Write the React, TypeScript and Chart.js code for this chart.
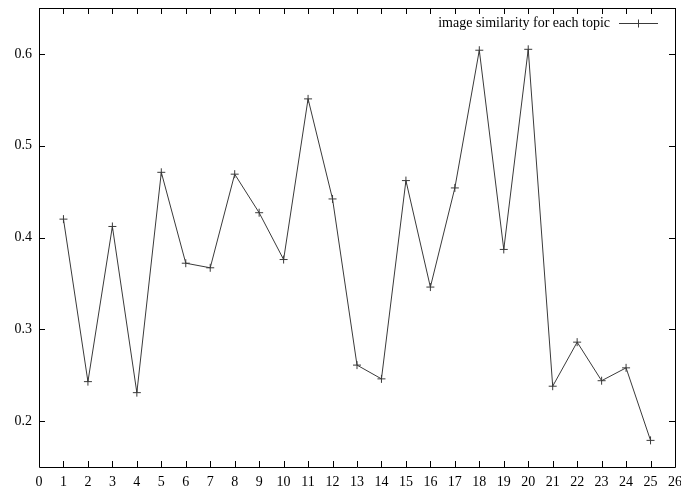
import React, { useEffect, useRef } from "react";
import { Chart, registerables } from "chart.js";

Chart.register(...registerables);

const topics = [1, 2, 3, 4, 5, 6, 7, 8, 9, 10, 11, 12, 13, 14, 15, 16, 17, 18, 19, 20, 21, 22, 23, 24, 25];
const similarity = [
  0.42, 0.243, 0.412, 0.231, 0.471, 0.372, 0.367, 0.469, 0.427, 0.376,
  0.551, 0.442, 0.261, 0.246, 0.462, 0.346, 0.454, 0.604, 0.387, 0.605,
  0.238, 0.286, 0.244, 0.258, 0.179,
];
const xTicks = [0, 1, 2, 3, 4, 5, 6, 7, 8, 9, 10, 11, 12, 13, 14, 15, 16, 17, 18, 19, 20, 21, 22, 23, 24, 25, 26];
const yTicks = [0.2, 0.3, 0.4, 0.5, 0.6];
const seriesLabel = "image similarity for each topic";

const FONT = "'Liberation Serif', 'Times New Roman', serif";
const LINE_COLOR = "#3a3a3a";

const framePlugin = {
  id: "gnuplotFrame",
  afterDatasetsDraw(chart: any) {
    const { ctx, chartArea, scales } = chart;
    const { left, right, top, bottom } = chartArea;
    const tl = 6;
    ctx.save();
    ctx.strokeStyle = "#000";
    ctx.lineWidth = 1;
    ctx.beginPath();
    ctx.rect(Math.round(left) + 0.5, Math.round(top) + 0.5, Math.round(right - left), Math.round(bottom - top));
    ctx.stroke();
    ctx.beginPath();
    for (const v of yTicks) {
      const y = Math.round(scales.y.getPixelForValue(v)) + 0.5;
      ctx.moveTo(left, y);
      ctx.lineTo(left + tl, y);
      ctx.moveTo(right, y);
      ctx.lineTo(right - tl, y);
    }
    for (const v of xTicks) {
      const x = Math.round(scales.x.getPixelForValue(v)) + 0.5;
      ctx.moveTo(x, bottom);
      ctx.lineTo(x, bottom - tl);
      ctx.moveTo(x, top);
      ctx.lineTo(x, top + tl);
    }
    ctx.stroke();

    // legend (gnuplot style: text then sample)
    const ly = 23;
    const textRight = 610;
    ctx.font = `14px ${FONT}`;
    ctx.fillStyle = "#000";
    ctx.textAlign = "right";
    ctx.textBaseline = "middle";
    ctx.fillText(chart.data.datasets[0].label, textRight, ly);
    ctx.strokeStyle = LINE_COLOR;
    ctx.beginPath();
    ctx.moveTo(619, ly + 0.5);
    ctx.lineTo(658, ly + 0.5);
    ctx.moveTo(638.5, ly - 3.5);
    ctx.lineTo(638.5, ly + 4.5);
    ctx.stroke();
    ctx.restore();
  },
};

export default function App() {
  const ref = useRef<HTMLCanvasElement>(null);
  useEffect(() => {
    if (!ref.current) return;
    const chart = new Chart(ref.current, {
      type: "scatter",
      data: {
        datasets: [
          {
            label: seriesLabel,
            data: topics.map((t, i) => ({ x: t, y: similarity[i] })),
            showLine: true,
            borderColor: LINE_COLOR,
            backgroundColor: LINE_COLOR,
            borderWidth: 1,
            pointStyle: "cross",
            pointRadius: 4,
            pointBorderWidth: 1,
            pointBorderColor: LINE_COLOR,
            tension: 0,
          },
        ],
      },
      options: {
        responsive: false,
        animation: false,
        layout: { padding: { left: 0, right: 6, top: 8, bottom: 0 } },
        plugins: { legend: { display: false }, tooltip: { enabled: false } },
        scales: {
          x: {
            type: "linear",
            min: 0,
            max: 26,
            afterBuildTicks: (s: any) => {
              s.ticks = xTicks.map((v) => ({ value: v }));
            },
            afterFit: (s: any) => {
              s.height = 22;
              s.paddingLeft = 0;
              s.paddingRight = 0;
            },
            grid: { display: false, drawTicks: false },
            border: { display: false },
            ticks: {
              padding: 7,
              autoSkip: false,
              maxRotation: 0,
              color: "#000",
              font: { family: FONT, size: 14 },
              callback: (v: any) => String(v),
            },
          },
          y: {
            type: "linear",
            min: 0.15,
            max: 0.65,
            afterBuildTicks: (s: any) => {
              s.ticks = yTicks.map((v) => ({ value: v }));
            },
            afterFit: (s: any) => {
              s.width = 39;
              s.paddingTop = 0;
              s.paddingBottom = 0;
            },
            grid: { display: false, drawTicks: false },
            border: { display: false },
            ticks: {
              padding: 7,
              autoSkip: false,
              color: "#000",
              font: { family: FONT, size: 14 },
              callback: (v: any) => Number(v).toFixed(1),
            },
          },
        },
      },
      plugins: [framePlugin],
    });
    return () => chart.destroy();
  }, []);
  return (
    <div style={{ position: "fixed", left: 0, top: 0, width: 681, height: 489, background: "#fff" }}>
      <canvas ref={ref} width={681} height={489} style={{ display: "block" }} />
    </div>
  );
}
